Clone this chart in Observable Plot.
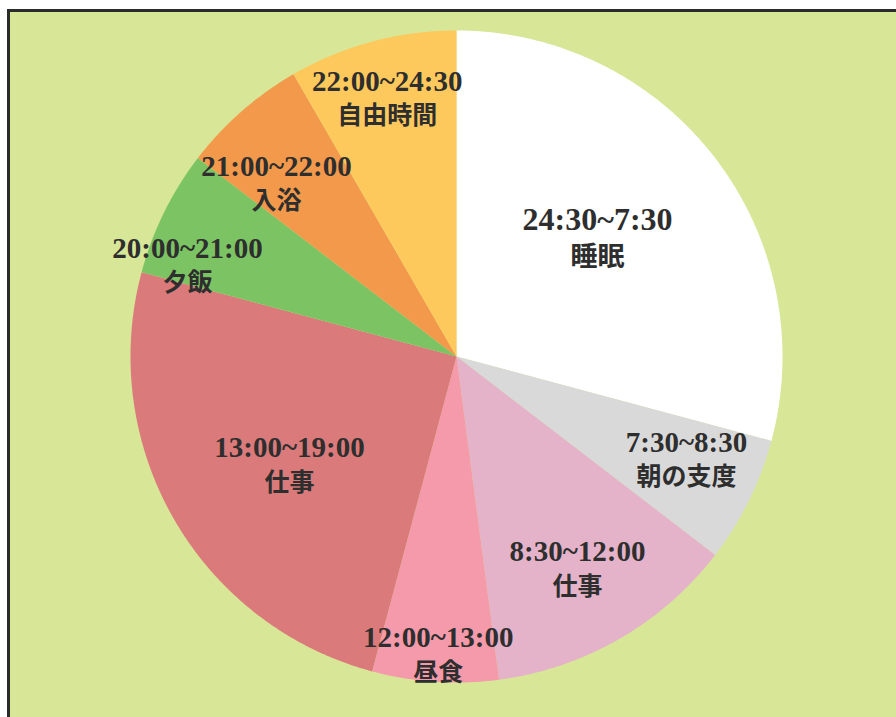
<!DOCTYPE html>
<html>
<head>
<meta charset="utf-8">
<script src="https://cdn.jsdelivr.net/npm/d3@7"></script>
<script src="https://cdn.jsdelivr.net/npm/@observablehq/plot@0.6"></script>
<style>
  html, body { margin: 0; padding: 0; background: #ffffff; overflow: hidden; }
  #frame {
    position: absolute; left: 7px; top: 9px; width: 1000px; height: 800px;
    border-left: 3px solid #2b2b2b; border-top: 3px solid #2b2b2b;
    background: #d8e698;
  }
  #chart { position: absolute; left: 0; top: 0; }
  #chart svg { background: transparent !important; }
</style>
</head>
<body>
<div id="frame"></div>
<div id="chart"></div>
<script>
// Data (clockwise from 12 o'clock)
const names  = ["睡眠", "朝の支度", "仕事", "昼食", "仕事", "夕飯", "入浴", "自由時間"];
const times  = ["24:30~7:30", "7:30~8:30", "8:30~12:00", "12:00~13:00", "13:00~19:00", "20:00~21:00", "21:00~22:00", "22:00~24:30"];
const values = [7, 1.5, 3, 1.5, 6, 1.5, 1.5, 2];

// Styles / layout
const colors = ["#ffffff", "#d9d9d9", "#e4b3c9", "#f49aab", "#db7a7a", "#7cc463", "#f2994b", "#fec95c"];
const labelRadius = [0.564, 0.773, 0.749, 0.916, 0.61, 0.871, 0.766, 0.82];
const labelAngleShift = [-2.4, -2.15, 0.3, -0.25, -2.9, -7.55, -4.85, 0]; // degrees from slice middle

const total = d3.sum(values);
const ids = values.map((_, i) => i);
const starts = values.map((_, i) => d3.sum(values.slice(0, i)) / total * 2 * Math.PI);
const ends = values.map((_, i) => d3.sum(values.slice(0, i + 1)) / total * 2 * Math.PI);

// wedge outlines in unit-circle data space
const wedgePts = [];
ids.forEach(i => {
  wedgePts.push({id: i, x: 0, y: 0});
  const n = Math.max(8, Math.ceil((ends[i] - starts[i]) / (Math.PI / 360)));
  for (let k = 0; k <= n; k++) {
    const a = starts[i] + (ends[i] - starts[i]) * k / n;
    wedgePts.push({id: i, x: Math.sin(a), y: Math.cos(a)});
  }
});

const labelData = ids.map(i => {
  const m = (starts[i] + ends[i]) / 2 + labelAngleShift[i] * Math.PI / 180;
  return {id: i, x: labelRadius[i] * Math.sin(m), y: labelRadius[i] * Math.cos(m), time: times[i], name: names[i]};
});

const chart = Plot.plot({
  width: 896,
  height: 717,
  marginLeft: 130,
  marginRight: 114,
  marginTop: 30,
  marginBottom: 35,
  style: {background: "transparent"},
  x: {domain: [-1, 1], axis: null},
  y: {domain: [-1, 1], axis: null},
  color: {type: "ordinal", domain: ids, range: colors},
  marks: [
    Plot.line(wedgePts, {x: "x", y: "y", z: "id", fill: "id", stroke: "none", curve: "linear-closed"}),
    Plot.text(labelData.filter(d => d.id === 0), {
      x: "x", y: "y", text: "time",
      fontFamily: "'Liberation Serif', 'DejaVu Serif', serif", fontWeight: "bold",
      fontSize: 32, fill: "#2e2e2e", textAnchor: "middle", lineAnchor: "middle", dy: -19
    }),
    Plot.text(labelData.filter(d => d.id === 0), {
      x: "x", y: "y", text: "name",
      fontFamily: "'Noto Sans CJK JP', sans-serif", fontWeight: "bold",
      fontSize: 27, fill: "#2e2e2e", textAnchor: "middle", lineAnchor: "middle", dy: 19
    }),
    Plot.text(labelData.filter(d => d.id !== 0), {
      x: "x", y: "y", text: "time",
      fontFamily: "'Liberation Serif', 'DejaVu Serif', serif", fontWeight: "bold",
      fontSize: 29, fill: "#2e2e2e", textAnchor: "middle", lineAnchor: "middle", dy: -17
    }),
    Plot.text(labelData.filter(d => d.id !== 0), {
      x: "x", y: "y", text: "name",
      fontFamily: "'Noto Sans CJK JP', sans-serif", fontWeight: "bold",
      fontSize: 25, fill: "#2e2e2e", textAnchor: "middle", lineAnchor: "middle", dy: 18
    })
  ]
});
document.getElementById("chart").appendChild(chart);
</script>
</body>
</html>
